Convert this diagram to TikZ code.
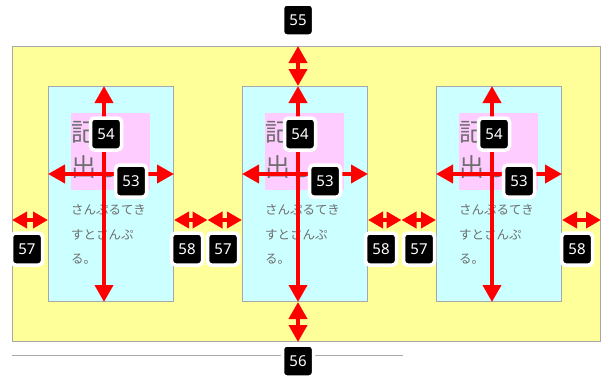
\documentclass[tikz,border=0pt]{standalone}
\usepackage{fontspec}
\setsansfont{Noto Sans}
\newfontfamily\jpfont{Noto Sans CJK JP}
\usetikzlibrary{positioning}
\usetikzlibrary{calc}
\usetikzlibrary{arrows.meta}
\definecolor{frameyellow}{HTML}{FFFF99}
\definecolor{colcyan}{HTML}{CCFFFF}
\definecolor{headpink}{HTML}{FFCCFF}
\definecolor{dimred}{HTML}{FF0000}
\definecolor{textgray}{HTML}{6E6E6E}
\definecolor{edgegray}{HTML}{A8A8A8}

\begin{document}
\begin{tikzpicture}[
    x=1pt, y=-1pt,
    frame/.style={rectangle, draw=edgegray, fill=frameyellow, line width=1pt, anchor=north west, inner sep=0, minimum width=588pt, minimum height=295pt},
    column/.style={rectangle, draw=edgegray, fill=colcyan, line width=1pt, anchor=north west, inner sep=0, minimum width=125pt, minimum height=215pt},
    headbox/.style={rectangle, fill=headpink, anchor=north west, inner sep=0, minimum width=79pt, minimum height=77pt},
    headtext/.style={anchor=base west, align=left, inner sep=0, text=textgray, font=\jpfont\fontsize{25}{35}\selectfont},
    bodytext/.style={anchor=base west, align=left, inner sep=0, text=textgray, font=\jpfont\fontsize{12.5}{24.5}\selectfont},
    dim/.style={draw=dimred, line width=4pt, {Triangle[length=17pt,width=18pt]}-{Triangle[length=17pt,width=18pt]}},
    gap/.style={draw=dimred, line width=4pt, {Triangle[length=15pt,width=16pt]}-{Triangle[length=15pt,width=16pt]}},
    badge/.style={rectangle, rounded corners=4pt, fill=black, draw=white, line width=3.5pt, text=white, minimum width=31pt, minimum height=32pt, inner sep=0, font=\sffamily\fontsize{15}{15}\selectfont},
]
    \useasboundingbox (0,0) rectangle (605,378);

    % boxes
    \node[frame] (outer) at (12,46) {};
    \node[column] (col1) at (48,86) {};
    \node[column] (col2) at (242,86) {};
    \node[column] (col3) at (436,86) {};
    \node[headbox] (head1) at (71,113) {};
    \node[headbox] (head2) at (265,113) {};
    \node[headbox] (head3) at (459,113) {};

    % texts (base = last line)
    \node[headtext] (title1) at (71,176.5) {記見\\出し};
    \node[headtext] (title2) at (265,176.5) {記見\\出し};
    \node[headtext] (title3) at (459,176.5) {記見\\出し};
    \node[bodytext] (body1) at (71,263.8) {さんぷるてき\\すとさんぷ\\る。};
    \node[bodytext] (body2) at (265,263.8) {さんぷるてき\\すとさんぷ\\る。};
    \node[bodytext] (body3) at (459,263.8) {さんぷるてき\\すとさんぷ\\る。};

    \coordinate (rulestart) at (12,355);
    \coordinate (ruleend) at (403,355);
    \draw[edgegray, line width=1pt] (rulestart) -- (ruleend);

    % dimension arrows
    \coordinate (axis) at (298,0);
    \coordinate (lvl) at (0,220);
    \coordinate (mid12) at (207.5,220);
    \coordinate (mid23) at (401.5,220);

    \draw[dim] (outer.north -| axis) -- (col2.north -| axis);
    \draw[dim] (col2.south -| axis) -- (outer.south -| axis);

    \draw[dim] ([xshift=56pt]col1.north west) -- ([xshift=56pt]col1.south west);
    \draw[dim] ([xshift=56pt]col2.north west) -- ([xshift=56pt]col2.south west);
    \draw[dim] ([xshift=56pt]col3.north west) -- ([xshift=56pt]col3.south west);
    \draw[dim] ([yshift=-88pt]col1.north west) -- ([yshift=-88pt]col1.north east);
    \draw[dim] ([yshift=-88pt]col2.north west) -- ([yshift=-88pt]col2.north east);
    \draw[dim] ([yshift=-88pt]col3.north west) -- ([yshift=-88pt]col3.north east);

    \draw[gap] (outer.west |- lvl) -- (col1.west |- lvl);
    \draw[gap] (col1.east |- lvl) -- (mid12);
    \draw[gap] (mid12) -- (col2.west |- lvl);
    \draw[gap] (col2.east |- lvl) -- (mid23);
    \draw[gap] (mid23) -- (col3.west |- lvl);
    \draw[gap] (col3.east |- lvl) -- (outer.east |- lvl);

    % badges
    \node[badge] (n55) at (298,20) {55};
    \node[badge] (n56) at (298,361) {56};
    \node[badge] (n54a) at (106,134) {54};
    \node[badge] (n54b) at (300,134) {54};
    \node[badge] (n54c) at (494,134) {54};
    \node[badge] (n53a) at (131,181) {53};
    \node[badge] (n53b) at (325,181) {53};
    \node[badge] (n53c) at (519,181) {53};
    \node[badge] (n57a) at (27,249) {57};
    \node[badge] (n58a) at (187,249) {58};
    \node[badge] (n57b) at (223,249) {57};
    \node[badge] (n58b) at (381,249) {58};
    \node[badge] (n57c) at (419,249) {57};
    \node[badge] (n58c) at (577,249) {58};
\end{tikzpicture}
\end{document}
